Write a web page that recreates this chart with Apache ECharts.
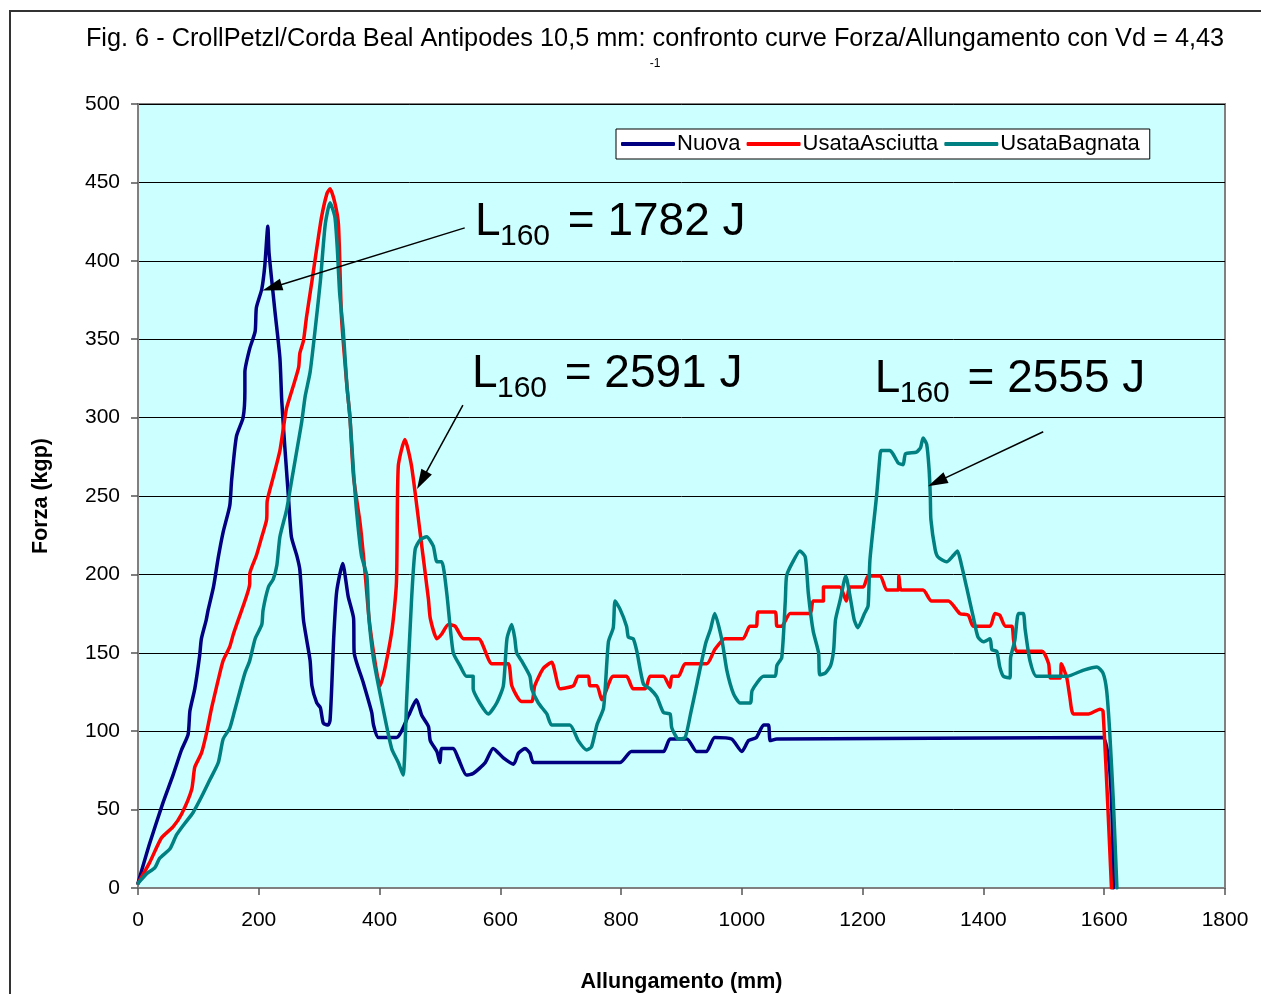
<!DOCTYPE html>
<html><head><meta charset="utf-8">
<script src="https://cdn.jsdelivr.net/npm/echarts@6/dist/echarts.min.js"></script>
<style>html,body{margin:0;padding:0;background:#fff}#c{width:1261px;height:994px}</style>
</head><body><div id="c"></div>
<script>
const seriesNames = ['Nuova','UsataAsciutta','UsataBagnata'];
const seriesColors = ['#000080','#FF0000','#008080'];
const xTicks = [0,200,400,600,800,1000,1200,1400,1600,1800];
const yTicks = [0,50,100,150,200,250,300,350,400,450,500];

const nuova = [[0,3],[19,28],[41,54],[58,72],[72,88],[83,98],[86,113],[94,127],[102,148],[105,159],[113,171],[116,177],[125,192],[133,211],[141,227],[152,244],[155,260],[163,288],[174,300],[177,317],[177,329],[185,344],[194,355],[196,370],[205,382],[210,397],[215,422],[217,405],[227,367],[235,338],[238,311],[243,282],[249,250],[254,224],[263,212],[268,203],[274,171],[279,159],[285,145],[288,129],[296,118],[302,115],[307,105],[315,104],[318,107],[321,130],[324,159],[329,189],[339,207],[348,186],[357,172],[358,150],[373,131],[387,112],[390,104],[398,96],[428,96],[448,110],[461,120],[470,110],[481,103],[484,94],[495,87],[500,80],[503,89],[522,89],[530,83],[544,72],[555,73],[575,80],[588,89],[605,83],[622,79],[630,86],[641,89],[649,86],[655,80],[798,80],[817,87],[870,87],[881,95],[909,95],[925,87],[941,87],[955,96],[983,95],[1000,87],[1011,94],[1024,96],[1036,104],[1044,104],[1047,94],[1058,95],[1598,96],[1615,0]];

const usataAsciutta = [[0,3],[19,16],[39,32],[58,39],[72,47],[89,63],[94,77],[105,86],[113,98],[122,115],[133,133],[141,145],[152,154],[158,162],[166,171],[177,183],[185,194],[185,200],[196,212],[205,224],[213,235],[214,247],[224,262],[235,279],[241,294],[246,306],[257,320],[266,332],[268,341],[274,349],[279,364],[288,387],[296,408],[304,428],[313,443],[318,446],[326,437],[332,423],[337,364],[346,320],[351,300],[357,262],[368,232],[376,201],[384,167],[401,129],[420,163],[428,195],[431,269],[442,286],[453,269],[467,227],[481,184],[484,172],[495,159],[503,162],[514,168],[525,167],[539,159],[564,159],[586,143],[613,143],[619,129],[635,119],[652,119],[657,129],[671,140],[685,144],[699,127],[721,129],[729,135],[746,135],[748,129],[760,129],[768,120],[787,135],[809,135],[820,127],[840,127],[848,135],[870,135],[881,128],[884,135],[895,135],[906,143],[942,143],[955,152],[972,159],[1002,159],[1013,167],[1024,167],[1027,176],[1055,176],[1058,167],[1066,167],[1080,175],[1113,175],[1118,183],[1135,183],[1135,192],[1162,192],[1173,183],[1179,192],[1201,192],[1209,199],[1229,199],[1240,190],[1259,190],[1260,199],[1264,190],[1300,190],[1314,183],[1342,183],[1361,175],[1375,174],[1383,167],[1411,167],[1419,175],[1427,174],[1436,167],[1447,167],[1450,158],[1455,151],[1497,151],[1508,143],[1511,134],[1527,134],[1529,143],[1538,134],[1543,122],[1549,111],[1574,111],[1593,114],[1598,113],[1612,0]];

const usataBagnata = [[0,3],[14,9],[28,13],[36,19],[53,25],[64,34],[77,41],[91,48],[105,58],[119,69],[133,80],[141,95],[152,102],[160,113],[169,126],[177,137],[185,145],[194,159],[205,168],[207,177],[216,192],[224,197],[230,206],[235,224],[246,241],[254,259],[263,279],[271,297],[277,314],[285,329],[293,355],[302,387],[310,423],[318,437],[326,428],[330,408],[334,379],[340,355],[346,320],[351,300],[357,265],[362,240],[370,212],[379,199],[382,174],[390,146],[406,114],[420,89],[431,80],[439,72],[445,121],[453,184],[459,216],[467,222],[478,224],[489,218],[495,208],[503,208],[511,189],[522,150],[533,142],[544,135],[555,135],[555,127],[566,118],[580,111],[594,118],[605,129],[611,159],[619,168],[624,159],[627,150],[635,145],[649,135],[652,127],[663,118],[677,111],[685,104],[715,104],[729,94],[743,88],[751,90],[760,104],[771,115],[779,157],[787,166],[790,183],[798,178],[809,167],[812,160],[820,159],[826,151],[837,130],[848,127],[859,122],[870,112],[881,111],[884,102],[895,95],[906,96],[915,111],[926,131],[940,156],[948,165],[955,175],[967,158],[975,139],[986,124],[997,118],[1014,118],[1017,126],[1036,135],[1055,135],[1058,142],[1066,147],[1072,184],[1074,199],[1083,207],[1096,215],[1105,211],[1110,188],[1118,164],[1127,150],[1129,136],[1138,137],[1147,142],[1152,152],[1155,171],[1163,184],[1172,199],[1180,184],[1186,171],[1192,166],[1203,175],[1209,180],[1212,209],[1223,250],[1229,277],[1231,279],[1245,279],[1250,277],[1259,271],[1267,270],[1271,277],[1289,278],[1296,281],[1300,287],[1306,283],[1310,267],[1312,250],[1313,235],[1320,216],[1325,211],[1339,208],[1350,212],[1357,215],[1363,207],[1372,192],[1383,173],[1391,160],[1400,157],[1411,159],[1414,152],[1422,151],[1427,141],[1433,135],[1444,134],[1445,147],[1452,158],[1458,175],[1466,175],[1469,165],[1477,145],[1488,135],[1538,135],[1566,139],[1588,141],[1598,137],[1604,126],[1609,100],[1615,56],[1621,0]];

// annotations: label value, text baseline anchor (data), arrow start, arrow end (data)
const annLabels = ['1782','2591','2555'];
const annText = [[558,416],[553,319],[1220,316]];
const annArrowFrom = [[541,421],[538,308],[1499,291]];
const annArrowTo = [[222,383],[470,260],[1323,259]];

const FONT = "'Liberation Sans', Arial, sans-serif";
const chart = echarts.init(document.getElementById('c'), null, {renderer:'canvas'});

const dataSets = [nuova, usataAsciutta, usataBagnata];
const series = dataSets.map((d,i)=>({
  name: seriesNames[i], type:'line', data:d, showSymbol:false, symbol:'none', smooth:0.2,
  lineStyle:{color:seriesColors[i], width:3.5, cap:'round', join:'round'},
  itemStyle:{color:seriesColors[i]}, z: 3+i, animation:false
}));
series[2].markLine = {
  silent:true, symbol:['none','triangle'], symbolSize:[12,20], animation:false, z:50,
  lineStyle:{color:'#000', width:1.5, type:'solid'}, itemStyle:{color:'#000'}, label:{show:false},
  data: annArrowFrom.map((f,i)=>[{coord:f},{coord:annArrowTo[i]}])
};

chart.setOption({
  animation:false,
  backgroundColor:'#fff',
  title:{text:'Fig. 6 - CrollPetzl/Corda Beal Antipodes 10,5 mm: confronto curve Forza/Allungamento con Vd = 4,43',
    left:650, textAlign:'center', top:22,
    textStyle:{fontFamily:FONT, fontSize:25.3, fontWeight:'normal', color:'#000'},
    subtext:'-1', subtextStyle:{fontFamily:FONT, fontSize:12, color:'#000'}, itemGap:6},
  legend:{left:616, top:129, data:seriesNames, icon:'roundRect', itemWidth:54, itemHeight:4,
    itemGap:6, padding:[4,10,4,5], backgroundColor:'#fff', borderColor:'#000', borderWidth:1, borderRadius:0,
    textStyle:{fontFamily:FONT, fontSize:22, color:'#000', padding:[0,0,0,-3]}},
  grid:{left:138, right:36, top:104, bottom:106, show:true, backgroundColor:'#CCFFFF', borderColor:'#808080', borderWidth:2,
    outerBoundsMode:'none', containLabel:false},
  xAxis:{type:'value', min:0, max:1800, interval:200,
    name:'Allungamento (mm)', nameLocation:'middle', nameGap:83,
    nameTextStyle:{fontFamily:FONT, fontSize:21.5, fontWeight:'bold', color:'#000'},
    axisLine:{show:true, lineStyle:{color:'#808080', width:2}},
    axisTick:{show:true, length:7, lineStyle:{color:'#555', width:1.5}},
    axisLabel:{fontFamily:FONT, fontSize:21, color:'#000', margin:22, formatter:v=>String(v)},
    splitLine:{show:false}},
  yAxis:{type:'value', min:0, max:500, interval:50,
    name:'Forza (kgp)', nameLocation:'middle', nameGap:86, nameRotate:90,
    nameTextStyle:{fontFamily:FONT, fontSize:21.5, fontWeight:'bold', color:'#000'},
    axisLine:{show:true, lineStyle:{color:'#808080', width:2}},
    axisTick:{show:true, length:7, lineStyle:{color:'#555', width:1.5}},
    axisLabel:{fontFamily:FONT, fontSize:21, color:'#000', margin:18, formatter:v=>String(v)},
    splitLine:{show:true, lineStyle:{color:'#000', width:1}}},
  series: series
});

// border and annotation texts
const graphics = [{type:'rect', shape:{x:10, y:11, width:1300, height:1100}, style:{fill:'none', stroke:'#333', lineWidth:2}, z:-10, silent:true}];
annText.forEach((p,i)=>{
  const px = chart.convertToPixel({gridIndex:0}, p);
  graphics.push({type:'text', x:px[0], y:px[1]-36, style:{text:'L', font:'46px '+FONT, fill:'#000', align:'left', verticalAlign:'top'}, z:100});
  graphics.push({type:'text', x:px[0]+25, y:px[1]-14, style:{text:'160', font:'30px '+FONT, fill:'#000', align:'left', verticalAlign:'top'}, z:100});
  graphics.push({type:'text', x:px[0]+80, y:px[1]-36, style:{text:' = '+annLabels[i]+' J', font:'46px '+FONT, fill:'#000', align:'left', verticalAlign:'top'}, z:100});
});
chart.setOption({graphic:graphics});
</script></body></html>
